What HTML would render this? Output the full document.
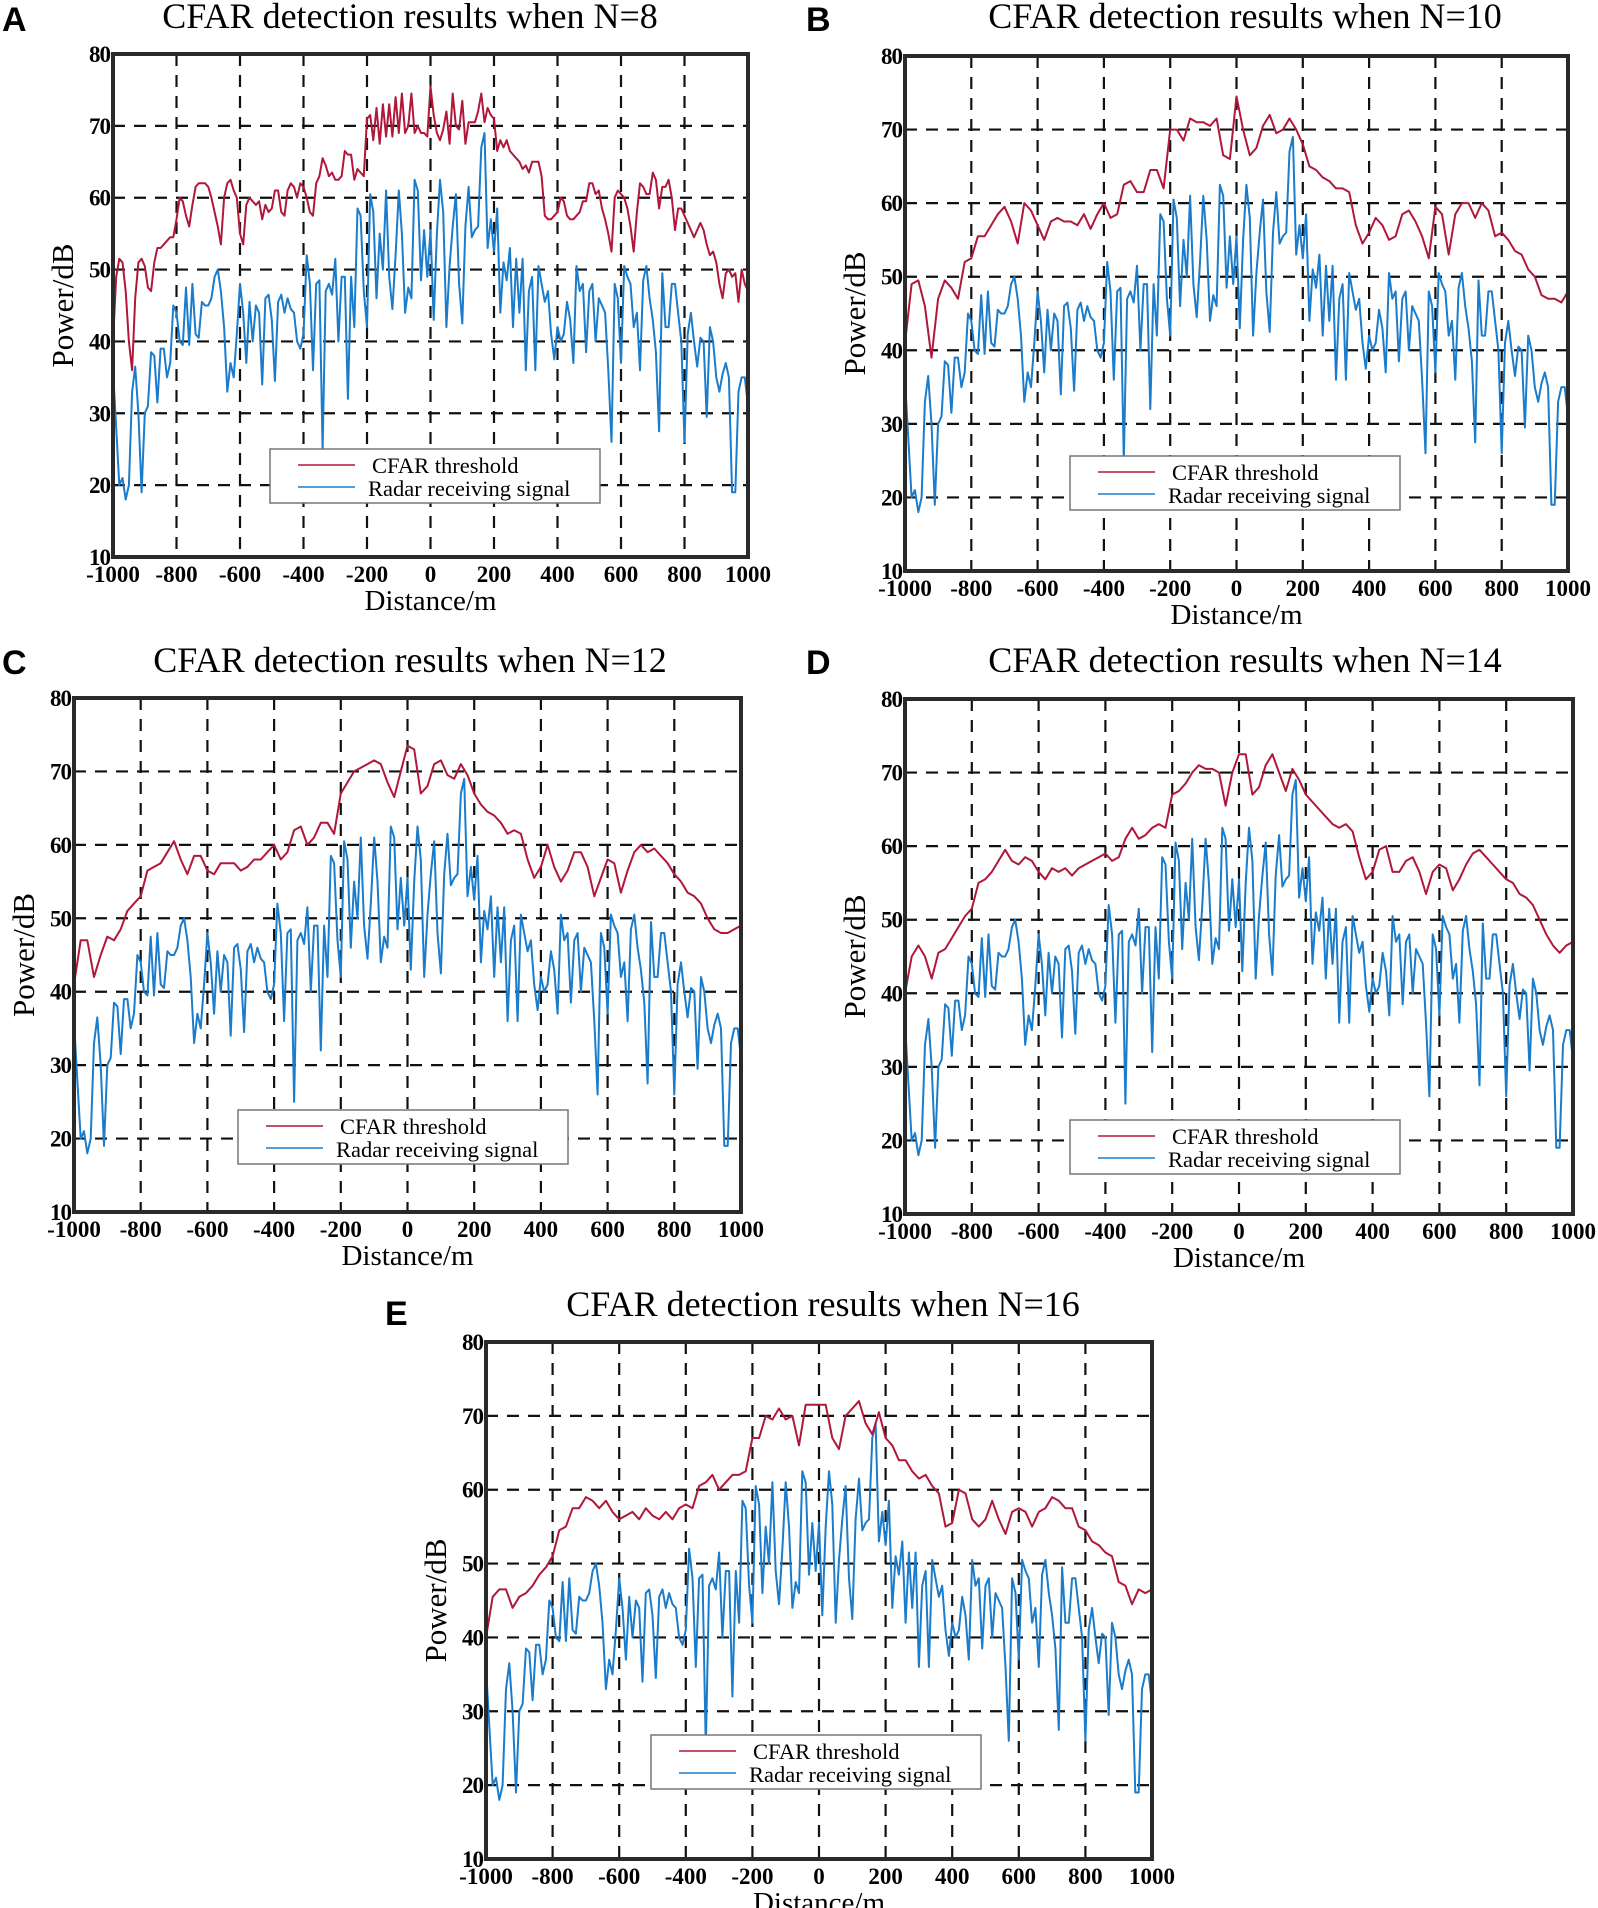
<!DOCTYPE html>
<html><head><meta charset="utf-8"><style>
html,body{margin:0;padding:0;background:#fff;}
svg{display:block;}
</style></head><body>
<svg id="fig" width="1598" height="1908" viewBox="0 0 1598 1908" xmlns="http://www.w3.org/2000/svg"></svg>
<script>
// Shared x domain and y ticks
const xTicks = [-1000,-800,-600,-400,-200,0,200,400,600,800,1000];
const yTicks = [10,20,30,40,50,60,70,80];

// Radar receiving signal (10 m step, -1000..1000)
const signalValues = [
36,28,20,21,18,20,33,36.5,30,19,
30,31,38.5,38,31.5,39,39,35,37,45,
44,40,39.5,47.5,39.5,48,41,40.5,45.5,45,
45,46,49,50,47,42,33,37,35,41,
48,44,37,45.5,40,45,44,34,46,46.5,
43,34.5,45.5,46.5,44,46,44.5,44,40,39,
41,52,48,36,48,48.5,25,47,48,46.5,
51.5,40,49,49,32,49,42,58.5,57.5,47,
42,60.5,58,46,55,50,61,49,44.5,52,
61,55,44,47.5,46,62.5,61,48.5,55.5,49,
55.5,43,55,62.5,58,42,50.5,56,60.5,48,
42.5,56,61.5,54.5,55.5,56,67,69,53,57,
52.5,58.5,44,51,48.5,53,42,51.5,44,51.5,
36,47,49,36,50.5,48,45.5,47,41,37.5,
42,40,41,45.5,43,37,50.5,47,48,38.5,
47,48,40,46,45,44,36,26,48,46,
37,50.5,49,48,42,44,36,48.5,50.5,46,
43,38.5,27.5,49.5,42,42,48,48,44,40,
26,41,44,40,36.5,40.5,40,29.5,42,40,
35,33,35.5,37,35,19,19,33,35,35,
31];

// CFAR thresholds
const thresholdN8 = [
40,49,51.5,51,47,40,36,46,51,51.5,50.5,47.5,47,51,53,53,53.5,54,54.5,54.5,
57,60,59.5,57.5,56,59,61.5,62,62,62,61.5,60,58,56,53.5,60,62,62.5,61,60,55,53.5,59,60,59.5,59,59.5,57,59,58,58.5,61,61,58,57.5,61,62,61.5,60,
62,61.5,60,58,57.5,62,63,65.5,64.5,63,63.5,62.5,62.5,63,66.5,66,66,62.5,64,63.5,63,71,
71.5,68,72.5,67.5,73,68.5,73,68.5,74,69,74.5,69,70,74.5,69,70,69,69,68.5,75.5,
71.5,69,68,69.5,72,67.5,74.5,70,69.5,73.5,67.5,70.5,70.5,70.5,72,74.5,70.5,72.5,71.5,71,
66.5,68,67,68,66.5,66,65.5,65,64,64.5,63.5,65,65,65,63,57.5,57,57,57.5,58,
60,59.5,57.5,57,57,57.5,58,59.5,59.5,62,62,60.5,61,58.5,57,55,52.5,60,61,60.5,
60,58.5,56,52.5,58,62,61.5,60.5,60.5,63.5,62.5,58.5,61.5,61.5,62.5,60,55.5,58.5,58.5,57.5,
56.5,55.5,54.5,55.5,56.5,55.5,53.5,52,52.5,51,48,46,49.5,50,49,49.5,45.5,50,48,47];
const thresholdN10 = [
41,49,49.5,46,39,47,49.5,48.5,47,52,52.5,55.5,55.5,57,58.5,59.5,57.5,54.5,60,59,
57,55,57.5,58,57.5,57.5,57,58.5,56.5,58.5,60,58,58.5,62.5,63,61.5,61.5,64.5,64.5,62,
70,70,68.5,71.5,71,71,70.5,71.5,66.5,66,74.5,70,66.5,67.5,70.5,72,69.5,70,71.5,70,
68,65,64.5,63.5,63,62,62,61.5,57,54.5,56,58,57,55,55.5,58.5,59,57.5,55.5,52.5,
59.5,58.5,53,58.5,60,60,58,60,59,55.5,56,55,53.5,53,51,50,47.5,47,47,46.5,48];
const thresholdN12 = [
41,47,47,42,45,47.5,47,48.5,51,52,53,56.5,57,57.5,59,60.5,58,56,58.5,58.5,
56.5,56,57.5,57.5,57.5,56.5,57,58,58,59,60,58,59,62,62.5,60,61,63,63,61.5,
67,68.5,70,70.5,71,71.5,71,68.5,66.5,70,73.5,73,67,68,71,71.5,69.5,69,71,69.5,
67,65.5,64.5,64,63,61.5,62,61.5,58,55.5,57,60,57,55,56.5,59,59,57,53,55.5,
58,57.5,53.5,56.5,59,60,59,59.5,58.5,57.5,56,55,53.5,53,52,50,48.5,48,48,48.5,49];
const thresholdN14 = [
40,45,46.5,45,42,45.5,46,47.5,49,50.5,51.5,55,55.5,56.5,58,59.5,58,57.5,58.5,58,
56.5,55.5,57,56.5,57,56,57,57.5,58,58.5,59,58,58.5,61,62.5,61,61.5,62.5,63,62.5,
67,67.5,68.5,70,71,70.5,70.5,70,65.5,70,72.5,72.5,67,68,71,72.5,70,67.5,70.5,69,
67,66,65,64,63,62.5,63,62,58.5,55.5,56.5,59.5,60,56.5,56.5,58,58.5,56.5,53.5,56.5,
57.5,57,54,55.5,57.5,59,59.5,58.5,57.5,56.5,55.5,55,53.5,53,52,50,48,46.5,45.5,46.5,47];
const thresholdN16 = [
40,45.5,46.5,46.5,44,45.5,46,47,48.5,49.5,51,54.5,55,57.5,57.5,59,58.5,57.5,58.5,57,
56,56.5,57,56,57.5,56.5,56,57,56,57.5,58,57.5,60.5,61,62,60,61,62,62,62.5,
67,67,70,69.5,71,69.5,70,66,71.5,71.5,71.5,71.5,67,65.5,70,71,72,69,67.5,70.5,
67,66,64,64,62.5,61.5,62,60.5,59.5,55,55.5,60,59.5,56,55,56,58.5,56,54,57,
57.5,57,55,57,57.5,59,58.5,57.5,57.5,55,54.5,53,52.5,51.5,51,47.5,47,44.5,46.5,46,46.5];

const panelTitles = ["CFAR detection results when N=8","CFAR detection results when N=10","CFAR detection results when N=12","CFAR detection results when N=14","CFAR detection results when N=16"];
const panelLetters = ["A","B","C","D","E"];

const NS = "http://www.w3.org/2000/svg";
const svg = document.getElementById('fig');
function mk(tag, attrs, parent){
  const e = document.createElementNS(NS, tag);
  for (const k in attrs) e.setAttribute(k, attrs[k]);
  (parent||svg).appendChild(e);
  return e;
}
const panels = [
  {l:113,r:748,t:54,b:557, th:thresholdN8, tx:410, ty:28, lx:2, ly:31, leg:[270,449]},
  {l:905,r:1568,t:56,b:571, th:thresholdN10, tx:1245, ty:28, lx:806, ly:31, leg:[1070,456]},
  {l:74,r:741,t:698,b:1212, th:thresholdN12, tx:410, ty:672, lx:2, ly:674, leg:[238,1110]},
  {l:905,r:1573,t:699,b:1214, th:thresholdN14, tx:1245, ty:672, lx:806, ly:674, leg:[1070,1120]},
  {l:486,r:1152,t:1342,b:1859, th:thresholdN16, tx:823, ty:1316, lx:385, ly:1325, leg:[651,1735]}
];
const RED = "#b0183a", BLUE = "#1a7ccb";
panels.forEach((p, i) => {
  const g = mk('g', {});
  
  
  const X = d => p.l + (d + 1000) / 2000 * (p.r - p.l);
  const Y = v => p.b - (v - 10) / 70 * (p.b - p.t);
  const let_ = mk('text', {x:p.lx, y:p.ly, 'font-family':'Liberation Sans, sans-serif','font-weight':'bold','font-size':34,fill:'#000'}, g);
  let_.textContent = panelLetters[i];
  
  
  const tt = mk('text', {x:p.tx, y:p.ty, 'text-anchor':'middle','font-family':'Liberation Serif, serif','font-size':36,fill:'#000'}, g);
  tt.textContent = panelTitles[i];
  
  
  // grid
  xTicks.slice(1, -1).forEach(d => {
    const ln = mk('line', {x1:X(d), x2:X(d), y1:p.t, y2:p.b, stroke:'#111','stroke-width':2.2,'stroke-dasharray':'12 9'}, g);
    
    
  });
  yTicks.slice(1, -1).forEach(v => {
    const ln = mk('line', {x1:p.l, x2:p.r, y1:Y(v), y2:Y(v), stroke:'#111','stroke-width':2.2,'stroke-dasharray':'12 9'}, g);
    
    
  });
  // series
  const clipId = 'clip' + i;
  const cp = mk('clipPath', {id:clipId}, g);
  mk('rect', {x:p.l, y:p.t, width:p.r - p.l, height:p.b - p.t}, cp);
  const sPts = signalValues.map((v, k) => X(-1000 + k * 2000 / (signalValues.length - 1)).toFixed(1) + ',' + Y(v).toFixed(1)).join(' ');
  const sl = mk('polyline', {points:sPts, fill:'none', stroke:BLUE, 'stroke-width':2, 'stroke-linejoin':'round', 'clip-path':'url(#' + clipId + ')'}, g);
  
  
  const tPts = p.th.map((v, k) => X(-1000 + k * 2000 / (p.th.length - 1)).toFixed(1) + ',' + Y(v).toFixed(1)).join(' ');
  const tl = mk('polyline', {points:tPts, fill:'none', stroke:RED, 'stroke-width':2, 'stroke-linejoin':'round', 'clip-path':'url(#' + clipId + ')'}, g);
  
  
  // frame
  const fr = mk('rect', {x:p.l, y:p.t, width:p.r - p.l, height:p.b - p.t, fill:'none', stroke:'#2a2a2a', 'stroke-width':4}, g);
  
  
  // tick labels
  yTicks.forEach(v => {
    const t = mk('text', {x:p.l - 3, y:Y(v) + 8, 'text-anchor':'end','font-family':'Liberation Serif, serif','font-weight':'bold','font-size':23,fill:'#000','letter-spacing':'-1'}, g);
    t.textContent = v;
    
    
  });
  xTicks.forEach(d => {
    const t = mk('text', {x:X(d), y:p.b + 25, 'text-anchor':'middle','font-family':'Liberation Serif, serif','font-weight':'bold','font-size':23,fill:'#000'}, g);
    t.textContent = d;
    
    
  });
  const xl = mk('text', {x:(p.l + p.r) / 2, y:p.b + 53, 'text-anchor':'middle','font-family':'Liberation Serif, serif','font-size':29,fill:'#000'}, g);
  xl.textContent = 'Distance/m';
  
  
  const ycx = p.l - 40, ycy = (p.t + p.b) / 2;
  const yl = mk('text', {x:ycx, y:ycy, 'text-anchor':'middle','font-family':'Liberation Serif, serif','font-size':31,fill:'#000', transform:'rotate(-90 ' + ycx + ' ' + ycy + ')'}, g);
  yl.textContent = 'Power/dB';
  
  
  // legend
  const lg = mk('g', {}, g);
  
  
  const lx = p.leg[0], ly = p.leg[1];
  mk('rect', {x:lx, y:ly, width:330, height:54, fill:'#fff', stroke:'#777', 'stroke-width':1.5}, lg);
  const e1 = mk('g', {}, lg);
  
  
  mk('line', {x1:lx + 28, x2:lx + 85, y1:ly + 16, y2:ly + 16, stroke:RED, 'stroke-width':1.5}, e1);
  const t1 = mk('text', {x:lx + 102, y:ly + 24, 'font-family':'Liberation Serif, serif','font-size':22.5,fill:'#000'}, e1);
  t1.textContent = 'CFAR threshold';
  const e2 = mk('g', {}, lg);
  
  
  mk('line', {x1:lx + 28, x2:lx + 85, y1:ly + 38, y2:ly + 38, stroke:BLUE, 'stroke-width':1.5}, e2);
  const t2 = mk('text', {x:lx + 98, y:ly + 47, 'font-family':'Liberation Serif, serif','font-size':22.5,fill:'#000'}, e2);
  t2.textContent = 'Radar receiving signal';
});
</script>
</body></html>
